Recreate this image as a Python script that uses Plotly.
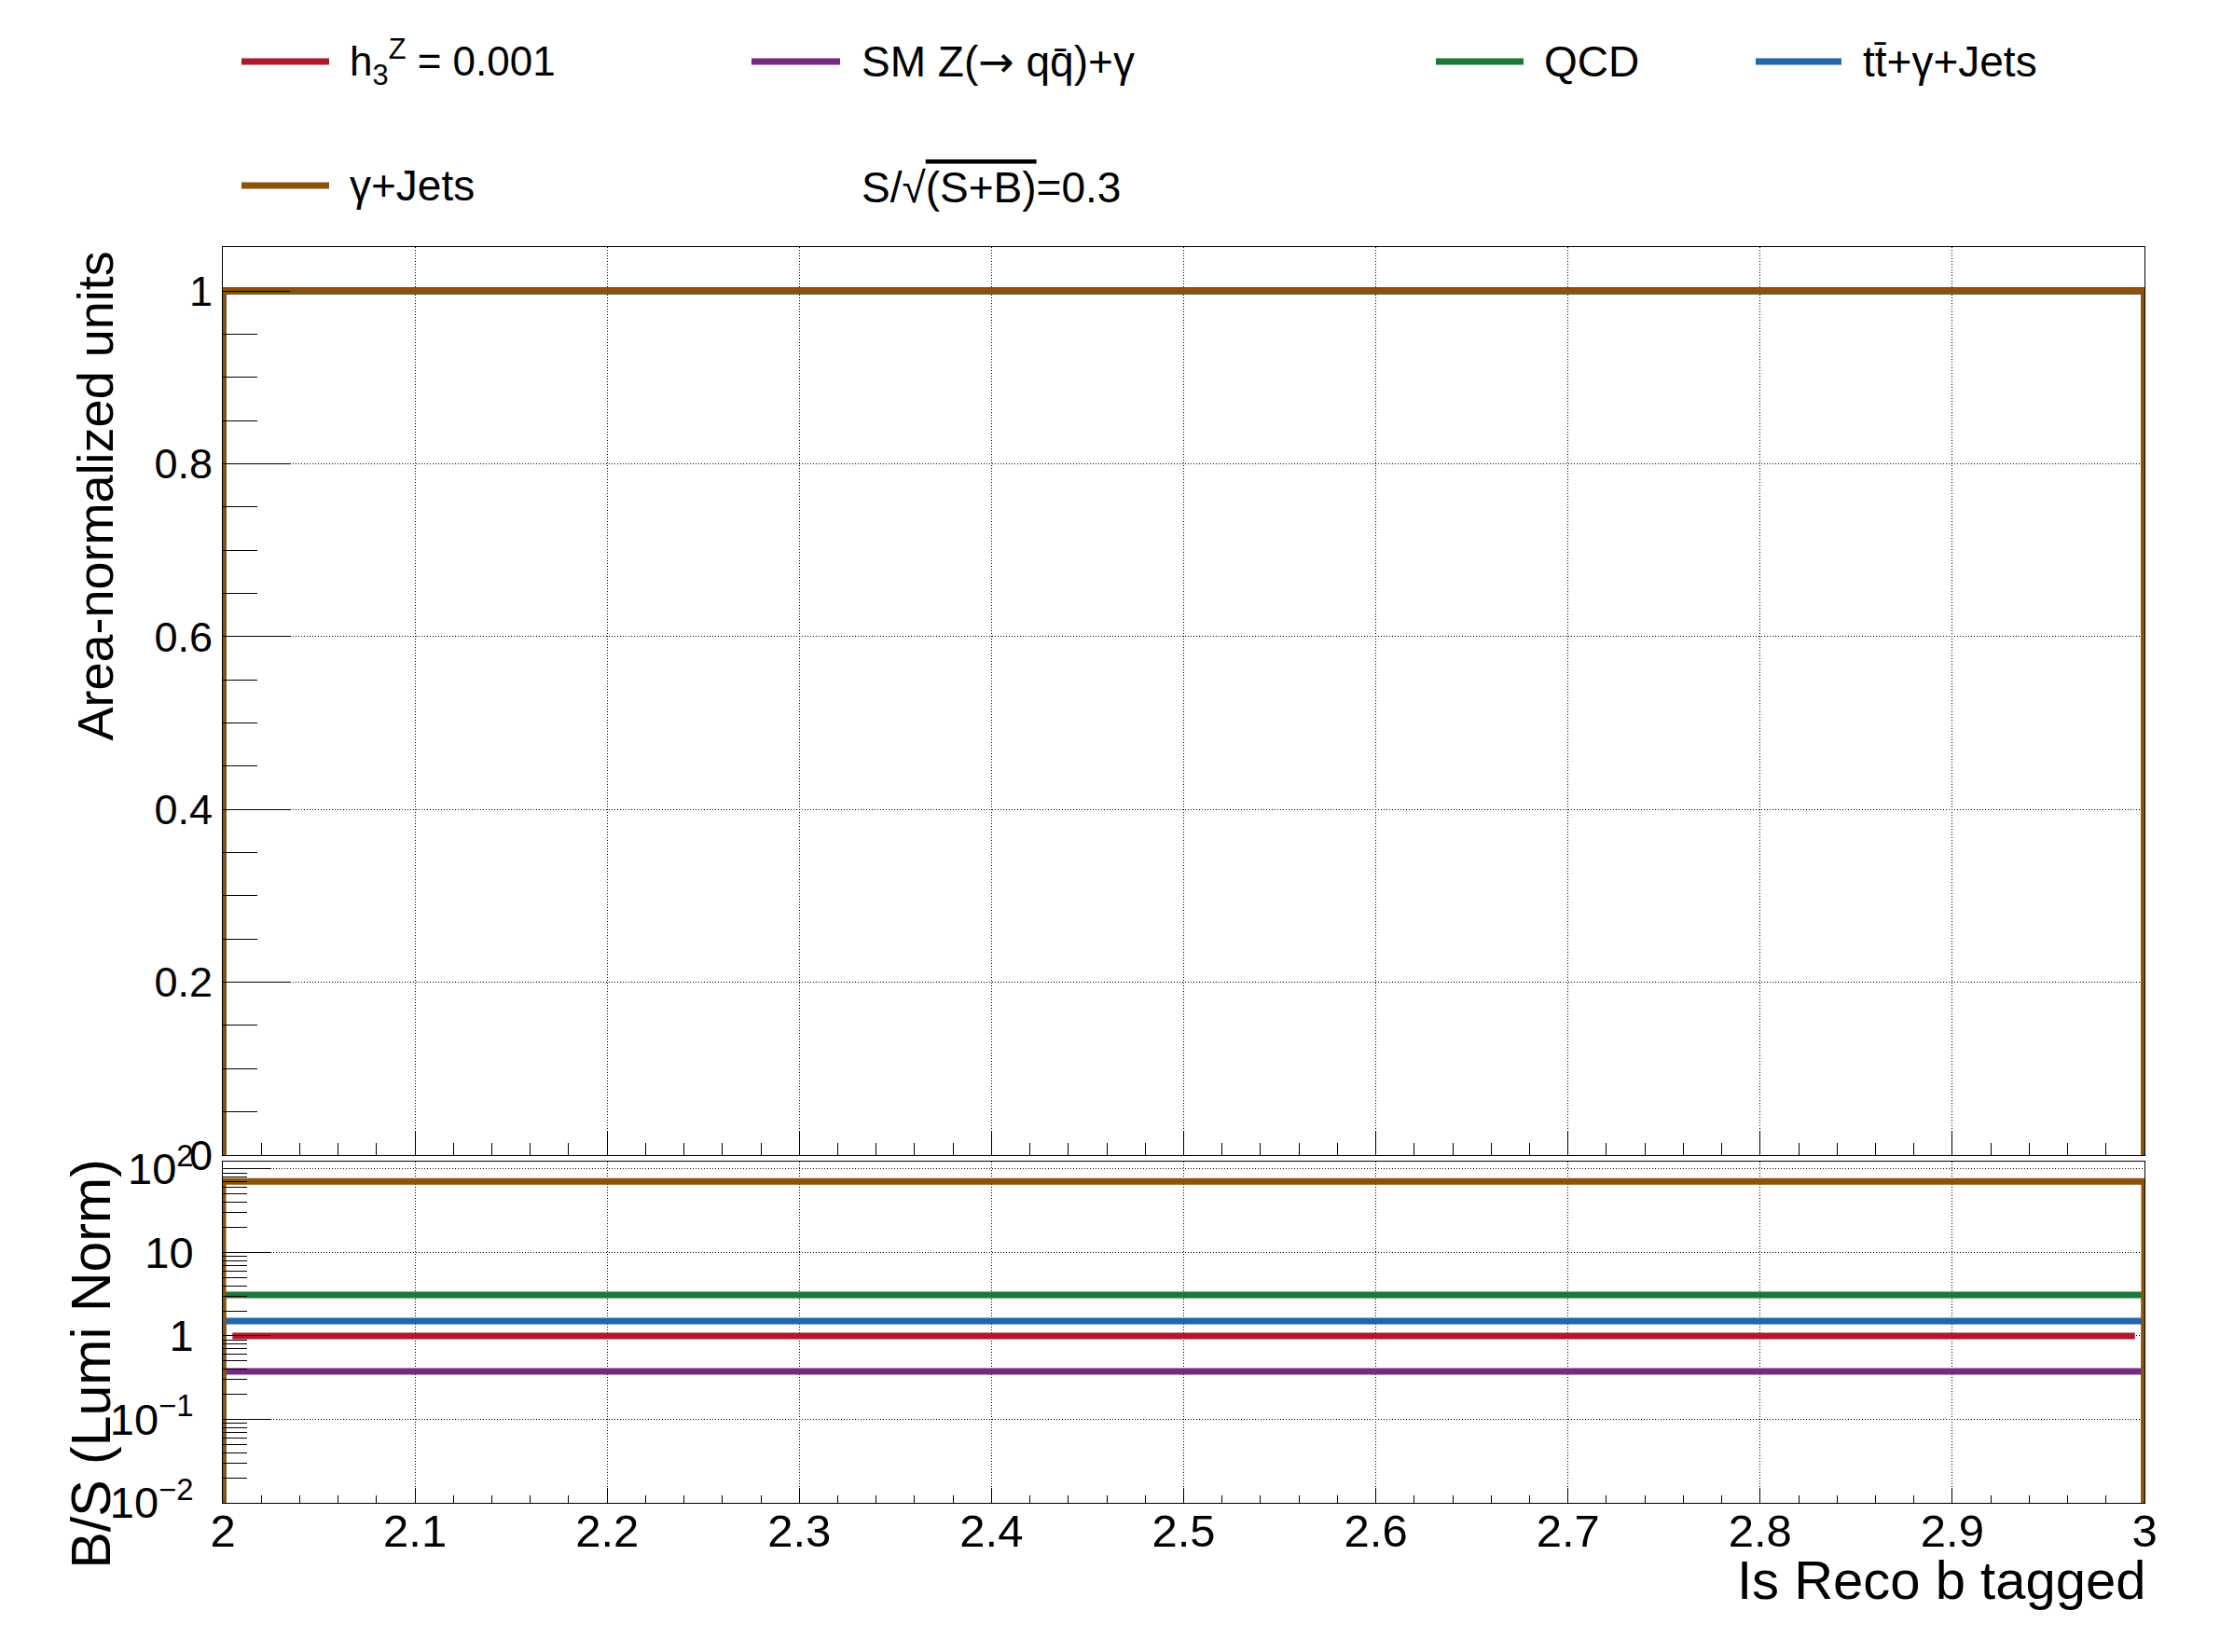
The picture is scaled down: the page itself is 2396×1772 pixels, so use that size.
import plotly.graph_objects as go

# ---------------- data ----------------
bin_edges = [2.0, 3.0]
series_names = [
    "h<sub>3</sub><sup>Z</sup> = 0.001",
    "SM Z(<span style='font-family:DejaVu Sans'>→</span> qq\u0304)+γ",
    "QCD",
    "tt\u0304+γ+Jets",
    "γ+Jets",
]
series_colors = ["#b2182b", "#762a83", "#1b7837", "#2166ac", "#8c510a"]
area_normalized = [1.0, 1.0, 1.0, 1.0, 1.0]
b_over_s = [1.0, 0.376, 3.10, 1.51, 71.0]
significance_label = "S/√<span style='text-decoration:overline'>(S+B)</span>=0.3"

x_tick_vals = [2.0, 2.1, 2.2, 2.3, 2.4, 2.5, 2.6, 2.7, 2.8, 2.9, 3.0]
x_tick_text = ["2", "2.1", "2.2", "2.3", "2.4", "2.5", "2.6", "2.7", "2.8", "2.9", "3"]
y_upper_tick_vals = [0.0, 0.2, 0.4, 0.6, 0.8, 1.0]
y_upper_tick_text = ["0", "0.2", "0.4", "0.6", "0.8", "1"]
y_lower_tick_vals = [0.01, 0.1, 1, 10, 100]
y_lower_tick_text = ["10<sup>−2</sup>", "10<sup>−1</sup>", "1", "10", "10<sup>2</sup>"]

x_title = "Is Reco b tagged"
y_upper_title = "Area-normalized units"
y_lower_title = "B/S (Lumi Norm)"

# ---------------- layout constants (page pixels) ----------------
PAGE_W, PAGE_H = 2396, 1772
BODY = 8                      # default page body margin
W, H = PAGE_W - 2 * BODY, PAGE_H - 2 * BODY
L, R, T, B = 239, 2300, 265, 1612
UPPER_BOTTOM_PX = 1239
LOWER_TOP_PX = 1246
FONT = "Liberation Sans, Arial, Helvetica, sans-serif"
LINE_W = 7
SIGNAL_INSET = 0.005
LOG_FLOOR = 1e-4


def px_x(px):
    return (px - L) / (R - L)


def px_y(py):
    return (B - py) / (B - T)


def step_xy(edges, value, floor):
    return [edges[0], edges[0], edges[1], edges[1]], [floor, value, value, floor]


fig = go.Figure()

# upper panel: area-normalised histograms (single bin)
for name, col, v in zip(series_names, series_colors, area_normalized):
    xs, ys = step_xy(bin_edges, v, 0.0)
    fig.add_trace(go.Scatter(x=xs, y=ys, mode="lines", name=name,
                             line=dict(color=col, width=LINE_W),
                             showlegend=False, xaxis="x", yaxis="y",
                             hoverinfo="skip"))

# lower panel: B/S ratios (signal drawn as a reference line first)
fig.add_trace(go.Scatter(x=[bin_edges[0] + SIGNAL_INSET, bin_edges[1] - SIGNAL_INSET],
                         y=[b_over_s[0], b_over_s[0]], mode="lines",
                         name=series_names[0],
                         line=dict(color=series_colors[0], width=LINE_W),
                         showlegend=False, xaxis="x2", yaxis="y2", hoverinfo="skip"))
for name, col, v in zip(series_names[1:], series_colors[1:], b_over_s[1:]):
    xs, ys = step_xy(bin_edges, v, LOG_FLOOR)
    fig.add_trace(go.Scatter(x=xs, y=ys, mode="lines", name=name,
                             line=dict(color=col, width=LINE_W),
                             showlegend=False, xaxis="x2", yaxis="y2",
                             hoverinfo="skip"))

grid = dict(showgrid=True, gridcolor="#000000", gridwidth=1, griddash="1px,2px")
frame = dict(showline=True, linecolor="black", linewidth=1, mirror=True, zeroline=False)

upper_dom_bottom = px_y(UPPER_BOTTOM_PX)
lower_dom_top = px_y(LOWER_TOP_PX)

fig.update_layout(
    width=W, height=H,
    margin=dict(l=L - BODY, r=(PAGE_W - BODY) - R, t=T - BODY, b=(PAGE_H - BODY) - B, pad=0),
    paper_bgcolor="white", plot_bgcolor="white",
    font=dict(family=FONT, color="black"),
    showlegend=False,
    xaxis=dict(domain=[0, 1], anchor="y", range=[2, 3], tickmode="array",
               tickvals=x_tick_vals, showticklabels=False,
               ticks="inside", ticklen=26, tickwidth=1, tickcolor="black",
               minor=dict(dtick=0.02, tick0=2, ticks="inside", ticklen=13,
                          tickwidth=1, tickcolor="black", showgrid=False),
               **grid, **frame),
    yaxis=dict(domain=[upper_dom_bottom, 1], anchor="x", range=[0, 1.0507],
               tickmode="array", tickvals=y_upper_tick_vals, ticktext=y_upper_tick_text,
               ticks="inside", ticklen=72, tickwidth=1, tickcolor="black",
               ticklabelstandoff=1,
               tickfont=dict(size=45, family=FONT),
               minor=dict(dtick=0.05, tick0=0, ticks="inside", ticklen=37,
                          tickwidth=1, tickcolor="black", showgrid=False),
               **grid, **frame),
    xaxis2=dict(domain=[0, 1], anchor="y2", range=[2, 3], tickmode="array",
                tickvals=x_tick_vals, ticktext=x_tick_text,
                ticks="inside", ticklen=16, tickwidth=1, tickcolor="black",
                tickfont=dict(size=49, family=FONT), ticklabelstandoff=-13,
                minor=dict(dtick=0.02, tick0=2, ticks="inside", ticklen=8,
                           tickwidth=1, tickcolor="black", showgrid=False),
                **grid, **frame),
    yaxis2=dict(domain=[0, lower_dom_top], anchor="x2", type="log", range=[-2, 2.089],
                tickmode="array", tickvals=y_lower_tick_vals, ticktext=y_lower_tick_text,
                ticks="inside", ticklen=51, tickwidth=1, tickcolor="black",
                tickfont=dict(size=47, family=FONT), ticklabelstandoff=21,
                minor=dict(dtick="D1", ticks="inside", ticklen=26,
                           tickwidth=1, tickcolor="black", showgrid=False),
                **grid, **frame),
)

# ---------------- legend (drawn as line samples + labels) ----------------
legend_rows_py = [66, 66, 66, 66, 199]
legend_line_px = [(259, 353), (806, 901), (1540, 1634), (1883, 1975), (259, 353)]
legend_text_px = [373, 922, 1654, 1996, 373]
legend_font_sizes = [44, 46, 46, 46, 46]

shapes = []
annotations = []
for name, col, py, (lx0, lx1), tx, fs in zip(series_names, series_colors, legend_rows_py,
                                              legend_line_px, legend_text_px, legend_font_sizes):
    shapes.append(dict(type="line", xref="paper", yref="paper",
                       x0=px_x(lx0), x1=px_x(lx1), y0=px_y(py), y1=px_y(py),
                       line=dict(color=col, width=LINE_W)))
    annotations.append(dict(text=name, xref="paper", yref="paper", x=px_x(tx), y=px_y(py),
                            xanchor="left", yanchor="middle", showarrow=False,
                            font=dict(size=fs, family=FONT, color="black")))
annotations.append(dict(text=significance_label, xref="paper", yref="paper",
                        x=px_x(922), y=px_y(201), xanchor="left", yanchor="middle",
                        showarrow=False, font=dict(size=46, family=FONT, color="black")))

# ---------------- axis titles (ROOT-style, aligned to axis ends) ----------------
annotations.append(dict(text=x_title, xref="paper", yref="paper", x=px_x(2304), y=px_y(1694),
                        xanchor="right", yanchor="middle", showarrow=False,
                        font=dict(size=58, family=FONT, color="black")))
annotations.append(dict(text=y_upper_title, xref="paper", yref="paper", x=px_x(101),
                        y=px_y(268), xanchor="center", yanchor="top", textangle=-90,
                        showarrow=False, font=dict(size=54, family=FONT, color="black")))
annotations.append(dict(text=y_lower_title, xref="paper", yref="paper", x=px_x(97),
                        y=px_y(1242), xanchor="center", yanchor="top", textangle=-90,
                        showarrow=False, font=dict(size=59, family=FONT, color="black")))

fig.update_layout(shapes=shapes, annotations=annotations)

fig.write_html("out.html")
